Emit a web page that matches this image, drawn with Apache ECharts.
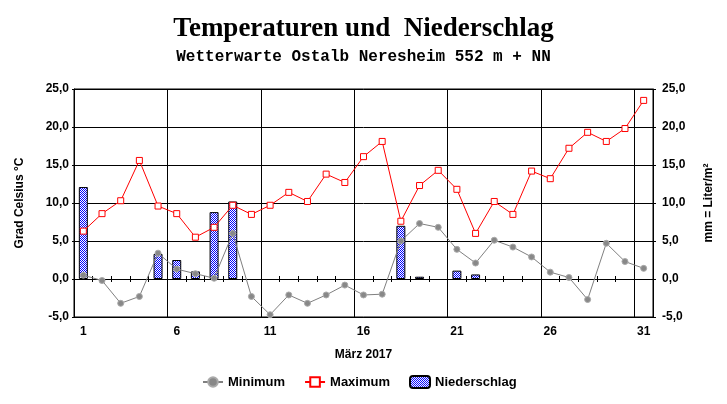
<!DOCTYPE html>
<html>
<head>
<meta charset="utf-8">
<script src="https://cdn.jsdelivr.net/npm/echarts@6/dist/echarts.min.js"></script>
<style>
  html, body { margin: 0; padding: 0; background: #fff; }
  #chart { width: 727px; height: 404px; }
</style>
</head>
<body>
<div id="chart"></div>
<script>
// Tage im März 2017
var days = [];
for (var d = 1; d <= 31; d++) days.push(String(d));

// Tagesminimum / -maximum in Grad Celsius
var tempMin = [0.5, -0.2, -3.2, -2.3, 3.4, 1.3, 0.7, 0.1, 6.0, -2.3,
               -4.7, -2.1, -3.2, -2.1, -0.8, -2.1, -2.0, 5.0, 7.3, 6.8,
               3.9, 2.1, 5.1, 4.2, 2.9, 0.9, 0.2, -2.7, 4.7, 2.3, 1.4];
var tempMax = [6.3, 8.6, 10.3, 15.6, 9.6, 8.6, 5.5, 6.8, 9.7, 8.5,
               9.7, 11.4, 10.2, 13.8, 12.7, 16.1, 18.1, 7.6, 12.3, 14.3,
               11.8, 6.0, 10.2, 8.5, 14.2, 13.2, 17.2, 19.3, 18.1, 19.8, 23.5];
// Niederschlag in mm
var rain = [12.1, 0, 0, 0, 3.3, 2.5, 1.0, 8.8, 10.2, 0,
            0, 0, 0, 0, 0, 0, 0, 7.0, 0.3, 0,
            1.1, 0.6, 0, 0, 0, 0, 0, 0, 0, 0, 0];

var yTicks = { min: -5, max: 25, interval: 5 };

// gepunktetes Füllmuster für die Balken
var pat = document.createElement('canvas');
pat.width = 2; pat.height = 2;
var pctx = pat.getContext('2d');
pctx.fillStyle = '#ffffff';
pctx.fillRect(0, 0, 2, 2);
pctx.fillStyle = '#0000ff';
pctx.fillRect(0, 0, 1, 1);
pctx.fillRect(1, 1, 1, 1);

var font = "'Liberation Sans', Arial, sans-serif";
var labelStyle = { color: '#000', fontFamily: font, fontWeight: 'bold', fontSize: 12 };
var fmt = function (v) { return v.toFixed(1).replace('.', ','); };

var chart = echarts.init(document.getElementById('chart'), null, { renderer: 'canvas' });

chart.setOption({
  animation: false,
  backgroundColor: '#fff',
  title: [
    {
      text: 'Temperaturen und  Niederschlag',
      left: 'center', top: 11,
      textStyle: { fontFamily: "'Liberation Serif', 'Times New Roman', serif", fontWeight: 'bold', fontSize: 27, color: '#000' }
    },
    {
      text: 'Wetterwarte Ostalb Neresheim 552 m + NN',
      left: 'center', top: 44,
      textStyle: { fontFamily: "'Liberation Mono', 'Courier New', monospace", fontWeight: 'bold', fontSize: 16, color: '#000' }
    }
  ],
  grid: { left: 74, right: 74, top: 89, bottom: 87, show: true, borderColor: '#000', borderWidth: 1, backgroundColor: 'transparent' },
  legend: {
    left: 197, top: 370,
    itemWidth: 20, itemHeight: 12, itemGap: 19,
    textStyle: { color: '#000', fontFamily: font, fontWeight: 'bold', fontSize: 13 },
    data: ['Minimum', 'Maximum', 'Niederschlag']
  },
  xAxis: [
    {
      type: 'category', data: days, boundaryGap: true,
      name: 'März 2017', nameLocation: 'middle', nameGap: 32,
      nameTextStyle: labelStyle,
      axisLine: { onZero: false, lineStyle: { color: '#000' } },
      axisTick: { show: false },
      axisLabel: Object.assign({ interval: function (i) { return i % 5 === 0; }, margin: 9 }, labelStyle),
      splitLine: { show: true, interval: function (i) { return i % 5 === 0; }, lineStyle: { color: '#000', width: 1 } }
    },
    {
      type: 'category', data: days, boundaryGap: true,
      axisLine: { onZero: true, lineStyle: { color: '#000' } },
      axisTick: { show: true, inside: true, length: 3, interval: 0, lineStyle: { color: '#000' } },
      axisLabel: { show: false }, splitLine: { show: false }
    },
    {
      type: 'category', data: days, boundaryGap: true,
      axisLine: { onZero: true, lineStyle: { color: '#000' } },
      axisTick: { show: true, inside: false, length: 3, interval: 0, lineStyle: { color: '#000' } },
      axisLabel: { show: false }, splitLine: { show: false }
    }
  ],
  yAxis: [
    {
      type: 'value', position: 'left',
      min: yTicks.min, max: yTicks.max, interval: yTicks.interval,
      name: 'Grad Celsius °C', nameLocation: 'middle', nameRotate: 90, nameGap: 48,
      nameTextStyle: labelStyle,
      axisLine: { show: true, lineStyle: { color: '#000' } },
      axisTick: { show: true, length: 2, lineStyle: { color: '#000' } },
      axisLabel: Object.assign({ margin: 5, formatter: fmt }, labelStyle),
      splitLine: { show: true, lineStyle: { color: '#000', width: 1 } }
    },
    {
      type: 'value', position: 'right',
      min: yTicks.min, max: yTicks.max, interval: yTicks.interval,
      name: 'mm = Liter/m²', nameLocation: 'middle', nameRotate: 90, nameGap: 50,
      nameTextStyle: labelStyle,
      axisLine: { show: true, lineStyle: { color: '#000' } },
      axisTick: { show: true, length: 3, lineStyle: { color: '#000' } },
      axisLabel: Object.assign({ margin: 9, formatter: fmt }, labelStyle),
      splitLine: { show: false }
    }
  ],
  series: [
    {
      name: 'Niederschlag', type: 'bar', yAxisIndex: 1,
      // Tage ohne Niederschlag bekommen keinen Balken
      data: rain.map(function (v) { return v > 0 ? v : null; }),
      barWidth: 9,
      itemStyle: { color: { image: pat, repeat: 'repeat' }, borderColor: '#000', borderWidth: 1 },
      z: 2
    },
    {
      name: 'Minimum', type: 'line', data: tempMin,
      symbol: 'circle', symbolSize: 6,
      lineStyle: { color: '#808080', width: 1 },
      itemStyle: { color: '#888888', borderColor: '#aaaaaa', borderWidth: 1 },
      z: 3
    },
    {
      name: 'Maximum', type: 'line', data: tempMax,
      symbol: 'rect', symbolSize: 6,
      lineStyle: { color: '#ff0000', width: 1 },
      itemStyle: { color: '#ffffff', borderColor: '#ff0000', borderWidth: 1 },
      z: 4
    }
  ]
});
</script>
</body>
</html>
